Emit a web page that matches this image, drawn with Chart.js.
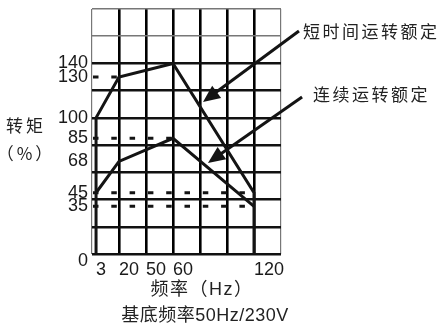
<!DOCTYPE html>
<html><head><meta charset="utf-8">
<script src="https://cdn.jsdelivr.net/npm/chart.js@4/dist/chart.umd.min.js"></script>
<style>html,body{margin:0;padding:0;background:#fff;}canvas{display:block;}</style>
</head><body>
<canvas id="c" width="443" height="325"></canvas>
<script>
// ---- data ----
const freqShort   = [3, 3, 20, 60, 120, 120];      // Hz  (短时间运转额定)
const torqueShort = [0, 100, 130, 140, 45, 0];     // %
const freqCont    = [3, 20, 60, 120];              // Hz  (连续运转额定)
const torqueCont  = [45, 68, 85, 35];              // %
const refLevels   = [130, 85, 45, 35];             // dashed guide levels (%)
const refEnds     = [20, 60, 120, 120];            // guide ends (Hz)
const yTickLabels = [0, 35, 45, 68, 85, 100, 130, 140];
const xTickValues = [3, 20, 40, 60, 120];
const xTickLabels = ['3', '20', '50', '60', '120'];
const seriesNames = ['短时间运转额定', '连续运转额定'];
const yTitle = ['转矩', '（%）'];
const xTitle = ['频率（Hz）', '基底频率50Hz/230V'];

const toPts = (xs, ys) => xs.map((v, i) => ({x: v, y: ys[i]}));
const INK = '#141414';

const datasets = [
  {label: seriesNames[0], data: toPts(freqShort, torqueShort), borderColor: INK, borderWidth: 3, pointRadius: 0, fill: false, borderJoinStyle: 'miter'},
  {label: seriesNames[1], data: toPts(freqCont, torqueCont), borderColor: INK, borderWidth: 3, pointRadius: 0, fill: false, borderJoinStyle: 'miter'}
];
refLevels.forEach((lv, i) => datasets.push({
  label: 'ref' + lv, data: toPts([0, refEnds[i]], [lv, lv]), borderColor: INK, borderWidth: 3,
  borderDash: [5.5, 12.8], borderDashOffset: -1, pointRadius: 0, fill: false, borderCapStyle: 'butt'
}));

const annot = {
  id: 'annot',
  afterDraw(chart, args, opts) {
    const {ctx, scales: {x, y}} = chart;
    ctx.save();
    ctx.fillStyle = INK; ctx.strokeStyle = INK;
    // arrows (data units)
    opts.arrows.forEach(a => {
      const x0 = x.getPixelForValue(a.from[0]), y0 = y.getPixelForValue(a.from[1]);
      const x1 = x.getPixelForValue(a.to[0]), y1 = y.getPixelForValue(a.to[1]);
      const ang = Math.atan2(y1 - y0, x1 - x0), L = 17, W = 7.5;
      const bx = x1 - L * Math.cos(ang), by = y1 - L * Math.sin(ang);
      ctx.lineWidth = 3; ctx.lineCap = 'butt';
      ctx.beginPath(); ctx.moveTo(x0, y0); ctx.lineTo(bx + 2 * Math.cos(ang), by + 2 * Math.sin(ang)); ctx.stroke();
      ctx.beginPath(); ctx.moveTo(x1, y1);
      ctx.lineTo(bx + W * Math.sin(ang), by - W * Math.cos(ang));
      ctx.lineTo(bx - W * Math.sin(ang), by + W * Math.cos(ang));
      ctx.closePath(); ctx.fill();
    });
    ctx.fillStyle = '#222';
    ctx.textBaseline = 'middle';
    // series labels (anchored in data units)
    ctx.font = '17px "Noto Sans CJK SC"';
    ctx.letterSpacing = '2.5px';
    ctx.textAlign = 'left';
    opts.names.forEach(n => ctx.fillText(n.text, x.getPixelForValue(n.at[0]), y.getPixelForValue(n.at[1])));
    // y title
    ctx.textAlign = 'center';
    ctx.letterSpacing = '3px';
    ctx.fillText(yTitle[0], 26, 126);
    ctx.fillText(yTitle[1], 26, 154);
    // x titles
    ctx.font = '18px "Liberation Sans", "Noto Sans CJK SC"';
    ctx.letterSpacing = '1.5px';
    ctx.fillText(xTitle[0], 202, 290);
    ctx.letterSpacing = '0.5px';
    ctx.fillText(xTitle[1], 205, 316);
    ctx.restore();
  }
};

new Chart(document.getElementById('c'), {
  type: 'line',
  data: {datasets},
  plugins: [annot],
  options: {
    responsive: false, animation: false, devicePixelRatio: 1,
    layout: {padding: {top: 9, right: 162, left: 0, bottom: 0}},
    plugins: {
      legend: {display: false}, tooltip: {enabled: false},
      annot: {
        arrows: [
          {from: [153.3, 163.8], to: [82.2, 111.7]},
          {from: [155.6, 115.3], to: [85.9, 66.9]}
        ],
        names: [
          {text: seriesNames[0], at: [156.3, 163.1]},
          {text: seriesNames[1], at: [163.7, 116.8]}
        ]
      }
    },
    scales: {
      x: {
        type: 'linear', min: 0, max: 140,
        afterBuildTicks: s => { s.ticks = [0, 3, 20, 40, 60, 80, 100, 120, 140].map(v => ({value: v})); },
        afterFit: s => { s.height = 71; s.paddingLeft = 0; s.paddingRight = 0; },
        border: {display: false},
        grid: {
          drawTicks: false,
          color: c => (c.tick && (c.tick.value === 0 || c.tick.value === 140)) ? '#777' : '#000',
          lineWidth: c => { const v = c.tick ? c.tick.value : 0; return v === 3 ? 0 : (v === 0 || v === 140) ? 1.2 : 2.6; }
        },
        ticks: {
          autoSkip: false, maxRotation: 0, align: 'start', padding: 5, color: '#1a1a1a',
          font: {family: 'Liberation Sans', size: 18},
          callback: v => { const i = xTickValues.indexOf(v); return i >= 0 ? xTickLabels[i] : ''; }
        }
      },
      y: {
        type: 'linear', min: 0, max: 180,
        afterBuildTicks: s => {
          const vals = [0, 20, 40, 60, 80, 100, 120, 140, 160, 180].concat(yTickLabels);
          s.ticks = Array.from(new Set(vals)).sort((a, b) => a - b).map(v => ({value: v}));
        },
        afterFit: s => { s.width = 92; s.paddingTop = 0; s.paddingBottom = 0; },
        border: {display: false},
        grid: {
          drawTicks: false,
          color: c => { const v = c.tick ? c.tick.value : 0; return v >= 160 ? '#777' : '#111'; },
          lineWidth: c => { const v = c.tick ? c.tick.value : 0; return v % 20 !== 0 ? 0 : (v >= 160 ? 1.5 : 2.4); }
        },
        ticks: {
          autoSkip: false, padding: 4, color: '#1a1a1a',
          font: c => (c.tick && c.tick.value === 0) ? {family: 'Liberation Sans', size: 18, lineHeight: 0.8} : {family: 'Liberation Sans', size: 18},
          callback: v => yTickLabels.includes(v) ? (v === 0 ? ['', '0'] : String(v)) : ''
        }
      }
    }
  }
});
</script>
</body></html>
